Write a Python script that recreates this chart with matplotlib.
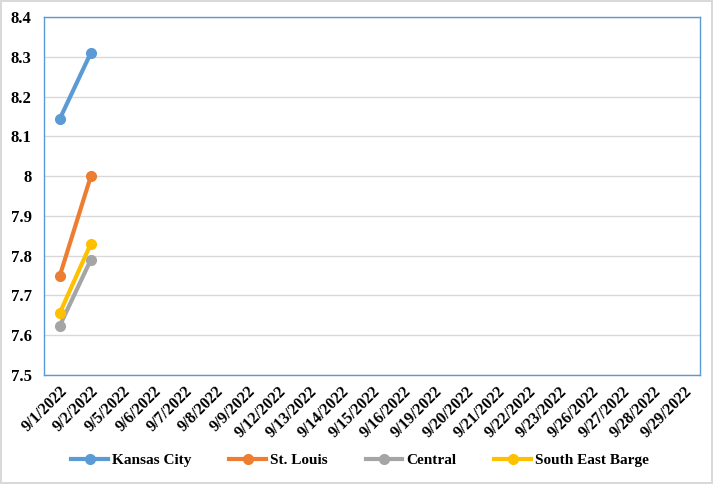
import matplotlib
matplotlib.use("Agg")
import matplotlib.pyplot as plt
import numpy as np

dates = ["9/1/2022", "9/2/2022", "9/5/2022", "9/6/2022", "9/7/2022", "9/8/2022",
         "9/9/2022", "9/12/2022", "9/13/2022", "9/14/2022", "9/15/2022", "9/16/2022",
         "9/19/2022", "9/20/2022", "9/21/2022", "9/22/2022", "9/23/2022", "9/26/2022",
         "9/27/2022", "9/28/2022", "9/29/2022"]
kansas_city = [8.143, 8.31]
st_louis = [7.748, 8.0]
central = [7.623, 7.79]
south_east_barge = [7.655, 7.83]
yticks = [7.5, 7.6, 7.7, 7.8, 7.9, 8.0, 8.1, 8.2, 8.3, 8.4]
ytick_labels = ["7.5", "7.6", "7.7", "7.8", "7.9", "8", "8.1", "8.2", "8.3", "8.4"]

series = [("Kansas City", kansas_city, "#5B9BD5"),
          ("St. Louis", st_louis, "#ED7D31"),
          ("Central", central, "#A5A5A5"),
          ("South East Barge", south_east_barge, "#FFC000")]

plt.rcParams['font.family'] = ['Liberation Serif', 'DejaVu Serif']
plt.rcParams['font.weight'] = 'bold'

fig = plt.figure(figsize=(7.13, 4.84), dpi=100)
fig.patch.set_edgecolor("#D9D9D9")
fig.patch.set_linewidth(1.5)
ax = fig.add_axes([44/713, 1-375/484, (700-44)/713, (375-17)/484])

x = np.arange(len(dates))
for name, vals, col in series:
    ax.plot(x[:len(vals)], vals, color=col, lw=3, marker='o', ms=7, label=name)

ax.set_xlim(-0.5, len(dates) - 0.5)
ax.set_ylim(7.5, 8.4)
ax.set_yticks(yticks)
ax.set_yticklabels(ytick_labels, fontsize=12, fontweight='bold')
ax.set_xticks(x)
ax.set_xticklabels(dates, rotation=45, ha='right', rotation_mode='anchor', fontsize=11.5, fontweight='bold')
ax.tick_params(axis='y', length=0, pad=9)
ax.tick_params(axis='x', length=0, pad=6)
ax.grid(axis='y', color='#D9D9D9', lw=1)
ax.set_axisbelow(True)
for s in ax.spines.values():
    s.set_color('#5B9BD5')
    s.set_linewidth(1)

leg = fig.legend(loc='center', bbox_to_anchor=(0.505, 1-460/484), ncol=4, frameon=False,
                 prop={'size': 11, 'weight': 'bold'}, handlelength=2.4, columnspacing=2.5,
                 handletextpad=0.25)
fig.savefig("out.png", dpi=100)
